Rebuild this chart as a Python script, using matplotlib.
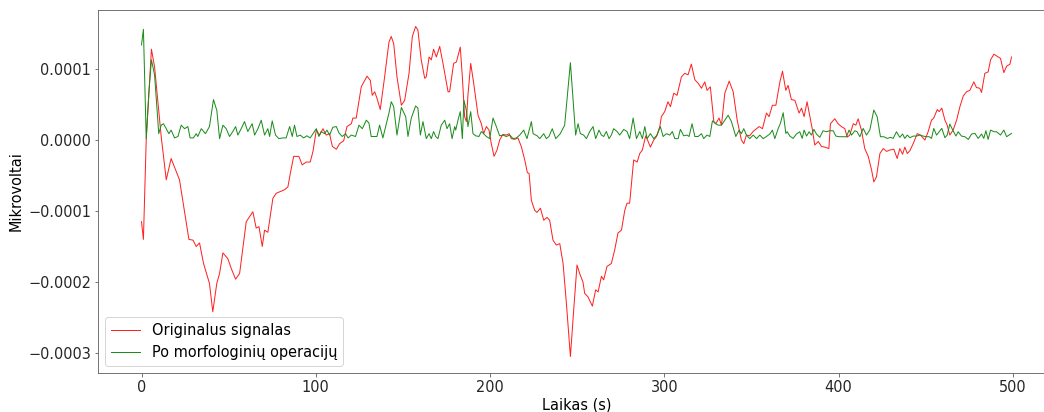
import matplotlib
matplotlib.use("Agg")
import matplotlib.pyplot as plt
import numpy as np

SCALE = 1e-5  # values below are in units of 1e-5

red_t = [0, 1.1, 2.7, 5.7, 7.5, 11.3, 14.2, 17.0, 21.8, 27.2, 29.5, 31.4, 33.3, 35.6, 39.0, 40.9,
         43.2, 44.8, 46.7, 49.5, 51.5, 54.0, 56.3, 60.1, 63.9, 65.8, 67.4, 69.3, 70.6, 72.5, 75.4,
         77.3, 82.1, 84.0, 85.4, 87.3, 90.3, 92.2, 94.5, 96.8, 98.4, 100.3, 102.2, 104.1, 106.0,
         107.9, 109.5, 111.8, 113.7, 116.0, 117.9, 120.4, 121.3, 123.2, 126.1, 129.4, 131.3, 132.4,
         133.8, 135.1, 137.0, 139.5, 142.0, 143.3, 144.7, 146.6, 149.1, 151.0, 153.5, 155.4, 157.3,
         158.6, 160.5, 162.5, 163.4, 165.0, 166.3, 167.6, 169.2, 171.1, 173.0, 175.9, 176.8, 179.1,
         180.7, 182.9, 184.1, 185.4, 186.4, 187.3, 188.9, 190.6, 193.1, 195.0, 196.3, 197.9, 199.4,
         200.7, 202.3, 204.0, 205.5, 207.4, 209.3, 210.9, 212.2, 214.1, 216.0, 217.9, 219.9, 221.4,
         222.4, 223.7, 225.6, 226.9, 228.9, 230.8, 232.7, 234.2, 236.1, 238.0, 240.0, 241.9, 243.8,
         246.1, 248.0, 249.9, 251.4, 253.3, 254.3, 256.2, 258.7, 260.6, 262.0, 263.9, 265.2, 267.1,
         269.6, 271.5, 273.4, 275.4, 277.3, 278.6, 280.1, 282.4, 284.4, 285.9, 287.4, 289.3, 290.7,
         292.0, 293.9, 295.5, 297.4, 298.3, 300.2, 302.1, 303.5, 305.4, 307.3, 309.8, 311.7, 313.6,
         315.5, 317.5, 319.4, 321.3, 323.2, 324.5, 326.4, 328.4, 329.5, 331.4, 332.8, 334.7, 337.2,
         339.5, 341.8, 344.2, 345.6, 347.1, 349.0, 350.9, 352.9, 354.4, 356.3, 358.6, 360.1, 362.0,
         364.0, 366.3, 367.8, 369.7, 371.0, 372.9, 374.9, 377.3, 378.7, 380.2, 381.9, 383.5, 385.0,
         386.3, 388.3, 390.2, 392.1, 394.4, 395.3, 397.8, 399.7, 401.6, 403.6, 404.9, 406.4, 408.4,
         409.9, 411.2, 413.1, 415.0, 417.0, 418.9, 420.2, 421.7, 423.7, 425.6, 427.5, 429.4, 431.7,
         433.6, 435.1, 436.7, 438.0, 439.4, 440.9, 442.8, 445.1, 447.0, 449.5, 451.4, 453.3, 454.6,
         456.6, 457.7, 459.2, 461.0, 462.3, 463.8, 465.7, 467.7, 469.6, 471.5, 473.4, 475.3, 477.6,
         479.1, 481.0, 482.0, 483.9, 485.8, 487.2, 489.1, 491.6, 492.9, 494.8, 496.4, 498.3, 499.2]
red_v = [-11.5, -14.0, 0.0, 12.8, 10.3, 0.5, -5.6, -2.6, -5.6, -14.0, -14.1, -15.0, -14.5, -17.4,
         -20.2, -24.2, -20.2, -18.8, -15.9, -16.7, -18.1, -19.6, -18.8, -11.5, -10.1, -12.4, -12.2,
         -15.0, -12.7, -13.0, -8.2, -7.5, -7.0, -6.6, -4.7, -2.3, -2.3, -3.5, -3.1, -3.1, -1.6, 1.4,
         0.7, 1.6, 0.7, 0.9, -0.9, -1.3, -0.5, -0.1, 1.9, 2.3, 3.1, 3.1, 7.5, 9.0, 8.4, 6.3, 6.8, 5.9,
         4.3, 8.9, 13.8, 14.6, 13.6, 8.9, 4.9, 5.6, 9.4, 14.6, 16.0, 15.5, 11.3, 8.7, 8.9, 11.7, 11.3,
         12.8, 11.7, 13.2, 10.8, 6.8, 6.8, 10.8, 11.0, 13.1, 8.9, 3.3, 2.6, 6.3, 10.8, 8.0, 3.5, 2.3,
         0.9, 1.9, 1.4, -0.5, -2.3, -1.4, 0.0, 0.8, 0.7, 0.9, 0.2, 0.1, 0.3, -0.9, -2.8, -4.6, -4.7,
         -8.5, -9.9, -10.2, -9.6, -11.3, -10.9, -11.3, -14.1, -14.8, -14.6, -17.4, -23.0, -30.5,
         -23.9, -17.6, -18.8, -20.0, -21.6, -22.1, -23.4, -21.1, -21.4, -19.2, -19.7, -17.8, -17.4,
         -15.5, -13.1, -12.7, -9.9, -8.9, -8.9, -2.8, -3.1, -1.9, -1.4, 0.6, -0.2, -1.0, 0.0, 0.5,
         1.9, 3.3, 4.0, 5.4, 4.7, 6.6, 6.3, 8.9, 9.4, 9.2, 10.7, 8.5, 8.0, 7.3, 8.2, 7.0, 7.5, 2.6,
         2.3, 3.1, 2.1, 6.6, 8.3, 6.8, 2.8, 0.0, -0.5, 0.7, 0.6, 1.2, 1.6, 1.9, 1.6, 3.8, 3.3, 4.9,
         4.9, 8.2, 9.7, 7.0, 7.7, 5.7, 5.6, 3.8, 4.5, 3.3, 5.4, 3.3, 1.4, -0.7, -0.2, -0.9, -1.0,
         -1.2, 2.3, 3.0, 2.3, 1.9, 1.6, 0.4, 0.7, 2.3, 2.1, 3.0, 1.4, -1.2, -2.3, -4.2, -5.9, -5.2,
         -1.9, -1.2, -1.6, -1.4, -1.3, -2.6, -1.2, -2.0, -1.0, -1.9, -1.5, -0.5, 0.9, 0.7, 0.0, 1.2,
         2.8, 3.1, 4.3, 4.0, 4.5, 2.8, 2.1, 0.7, 1.4, 2.8, 4.7, 6.2, 6.8, 7.0, 8.2, 7.4, 7.3, 6.7,
         9.4, 9.6, 11.3, 12.1, 11.7, 11.5, 9.5, 10.4, 10.7, 11.7]

green_t = [0, 1.1, 2.7, 4.2, 5.7, 7.5, 9.9, 11.3, 12.6, 14.2, 15.7, 17.0, 19.0, 20.9, 22.8, 24.7,
           26.6, 27.9, 29.8, 31.4, 32.3, 34.3, 36.7, 39.0, 41.3, 43.2, 44.8, 46.7, 48.6, 50.5, 52.4,
           54.0, 55.3, 57.2, 59.1, 61.0, 63.5, 64.9, 66.8, 68.7, 70.6, 72.5, 73.5, 75.0, 76.9, 78.8,
           81.1, 83.0, 85.0, 86.5, 87.8, 89.2, 91.1, 93.0, 94.9, 96.8, 98.4, 100.3, 101.8, 103.1,
           105.1, 106.4, 107.9, 109.8, 111.8, 113.3, 115.2, 117.1, 118.5, 120.4, 122.8, 124.8, 126.7,
           129.0, 130.5, 131.8, 133.8, 135.1, 136.6, 138.5, 140.5, 142.0, 143.3, 144.7, 146.6, 149.1,
           151.6, 152.9, 154.8, 157.3, 158.6, 160.0, 161.5, 163.4, 165.0, 166.3, 167.6, 168.8, 170.1,
           172.0, 174.0, 175.3, 176.8, 178.2, 179.7, 180.3, 181.6, 182.9, 184.1, 185.0, 186.4, 187.3,
           188.9, 190.2, 191.7, 193.6, 195.0, 196.3, 197.9, 199.8, 201.7, 203.6, 205.5, 207.4, 209.3,
           211.3, 213.2, 215.1, 217.0, 219.3, 221.2, 223.7, 224.7, 227.0, 228.5, 230.8, 232.3, 233.8,
           235.7, 237.7, 240.3, 242.8, 246.1, 249.1, 250.5, 251.8, 253.7, 255.3, 257.2, 259.1, 260.6,
           262.5, 263.9, 265.2, 266.7, 268.3, 269.6, 270.9, 272.9, 274.4, 276.7, 278.6, 280.1, 282.1,
           284.0, 285.9, 287.4, 288.8, 290.1, 292.0, 293.9, 295.8, 297.7, 299.3, 301.2, 303.1, 304.6,
           306.0, 307.9, 309.2, 311.1, 313.1, 314.2, 315.9, 317.5, 319.4, 321.3, 322.6, 324.5, 326.1,
           327.6, 329.5, 330.9, 332.8, 334.7, 336.6, 338.5, 341.0, 342.9, 344.2, 345.6, 347.1, 349.0,
           351.0, 352.9, 354.8, 356.7, 358.6, 360.5, 362.0, 363.4, 365.3, 366.6, 368.2, 369.7, 370.5,
           372.0, 373.9, 375.8, 377.7, 379.1, 380.2, 381.6, 383.1, 384.4, 385.8, 387.3, 389.2, 391.1,
           393.0, 394.9, 396.9, 398.4, 400.3, 402.2, 404.5, 406.0, 407.4, 409.3, 410.6, 412.2, 414.1,
           416.0, 417.9, 420.2, 422.1, 424.0, 425.9, 427.9, 429.8, 431.3, 433.2, 435.1, 436.7, 438.0,
           439.4, 440.9, 442.8, 444.7, 446.6, 448.5, 450.4, 452.0, 453.3, 454.6, 456.2, 457.7, 459.2,
           461.0, 462.3, 463.8, 465.7, 467.3, 468.6, 470.5, 472.4, 474.4, 476.3, 478.2, 480.1, 482.0,
           483.3, 484.5, 485.8, 487.2, 489.1, 490.6, 492.9, 494.8, 496.4, 498.3, 499.2]
green_v = [13.4, 15.6, 0.2, 6.6, 11.3, 9.2, 0.9, 2.1, 2.3, 1.6, 0.9, 1.4, 0.3, 0.5, 2.1, 1.6, 1.9,
           0.3, 0.3, 0.9, 0.5, 1.6, 0.9, 1.9, 5.7, 4.2, 0.2, 2.1, 1.6, 0.5, 1.2, 1.9, 0.7, 1.6, 2.6,
           1.2, 2.3, 0.7, 1.6, 2.8, 0.7, 1.6, 0.5, 2.7, 0.7, 0.2, 0.3, 0.3, 1.9, 0.5, 2.1, 0.5, 0.7,
           0.3, 0.6, 0.3, 0.9, 1.6, 0.5, 1.2, 0.9, 1.4, 0.7, 1.8, 1.9, 1.0, 0.5, 0.9, 0.3, 0.7, 0.5,
           2.1, 1.6, 2.8, 2.4, 0.5, 0.5, 0.5, 2.1, 0.3, 2.3, 3.8, 5.4, 4.7, 0.7, 4.6, 3.3, 0.5, 3.1,
           4.8, 4.5, 0.7, 2.6, 0.2, 0.9, 0.2, 1.2, 0.5, 0.2, 2.1, 2.8, 1.6, 2.3, 0.2, 1.9, 1.4, 2.8,
           4.0, 0.2, 5.6, 4.2, 1.9, 4.0, 0.9, 0.6, 0.5, 1.2, 0.9, 0.5, 0.2, 3.1, 1.9, 0.6, 0.7, 0.5,
           0.7, 0.2, 0.3, 0.7, 1.4, 0.2, 2.6, 0.9, 0.6, 0.2, 0.9, 0.2, 0.5, 1.6, 0.2, 0.9, 2.1, 10.9,
           0.7, 2.3, 0.9, 0.7, 0.2, 1.2, 1.9, 0.2, 1.4, 0.7, 0.5, 1.2, 0.2, 0.7, 1.6, 1.2, 0.7, 1.5,
           1.2, 0.2, 3.1, 0.2, 1.2, 0.2, 1.9, 0.2, 0.9, 0.2, 0.7, 1.9, 0.5, 0.9, 0.7, 1.2, 0.2, 0.2,
           1.5, 0.6, 0.7, 0.5, 2.3, 0.5, 0.5, 0.9, 0.2, 0.7, 0.5, 2.7, 2.3, 2.1, 2.1, 2.8, 3.5, 2.6,
           0.5, 1.4, 0.9, 1.6, 0.7, 0.2, 0.7, 0.2, 0.7, 0.2, 0.5, 0.85, 1.4, 0.2, 1.6, 2.35, 3.85,
           0.94, 1.17, 0.56, 0.23, 0.85, 1.17, 0.23, 1.41, 0.56, 1.17, 0.70, 1.50, 0.85, 0.38, 1.31,
           1.17, 1.31, 1.31, 0.56, 0.47, 0.47, 0.47, 1.41, 0.70, 1.31, 1.17, 0.47, 1.64, 0.70, 1.41,
           4.23, 3.29, 0.47, 0.47, 0.23, 0.38, 0.23, 1.17, 0.38, 0.85, 0.23, 0.70, 0.33, 0.56, 0.56,
           0.70, 0.56, 0.47, 0.47, 0.23, 1.64, 0.70, 1.17, 1.64, 0.33, 0.70, 2.25, 1.31, 0.56, 1.17,
           0.56, 0.47, 0.09, 0.85, 0.94, 0.23, 0.85, 0.23, 1.31, 0.09, 1.41, 1.17, 1.17, 0.70, 1.41,
           0.47, 0.80, 0.94]

labels = ["Originalus signalas", "Po morfologinių operacijų"]

DPI = 72
FS = 14.5
plt.rcParams['font.family'] = ['DejaVu Sans']
plt.rcParams['font.size'] = FS

fig = plt.figure(figsize=(1044 / DPI, 412 / DPI), dpi=DPI)
ax = fig.add_axes([98 / 1044, 1 - 373 / 412, (1055 - 98) / 1044, (373 - 10) / 412])

l1, = ax.plot(red_t, np.array(red_v) * SCALE, color='#ff2020', linewidth=1.0, label=labels[0])
l2, = ax.plot(green_t, np.array(green_v) * SCALE, color='#1a8c1a', linewidth=1.0, label=labels[1])

ax.set_xlabel("Laikas (s)", fontsize=FS, labelpad=3)
ax.set_ylabel("Mikrovoltai", fontsize=FS)
ax.set_yticks([-0.0003, -0.0002, -0.0001, 0.0, 0.0001])
ax.set_yticklabels(["\u22120.0003", "\u22120.0002", "\u22120.0001", "0.0000", "0.0001"])
ax.tick_params(axis='both', labelsize=FS, labelcolor='#262626', color='#555555')
for s in ax.spines.values():
    s.set_color('#555555')
ax.legend(handles=[l1, l2], labels=labels, loc='lower left', fontsize=FS)

fig.savefig("out.png", dpi=DPI)
